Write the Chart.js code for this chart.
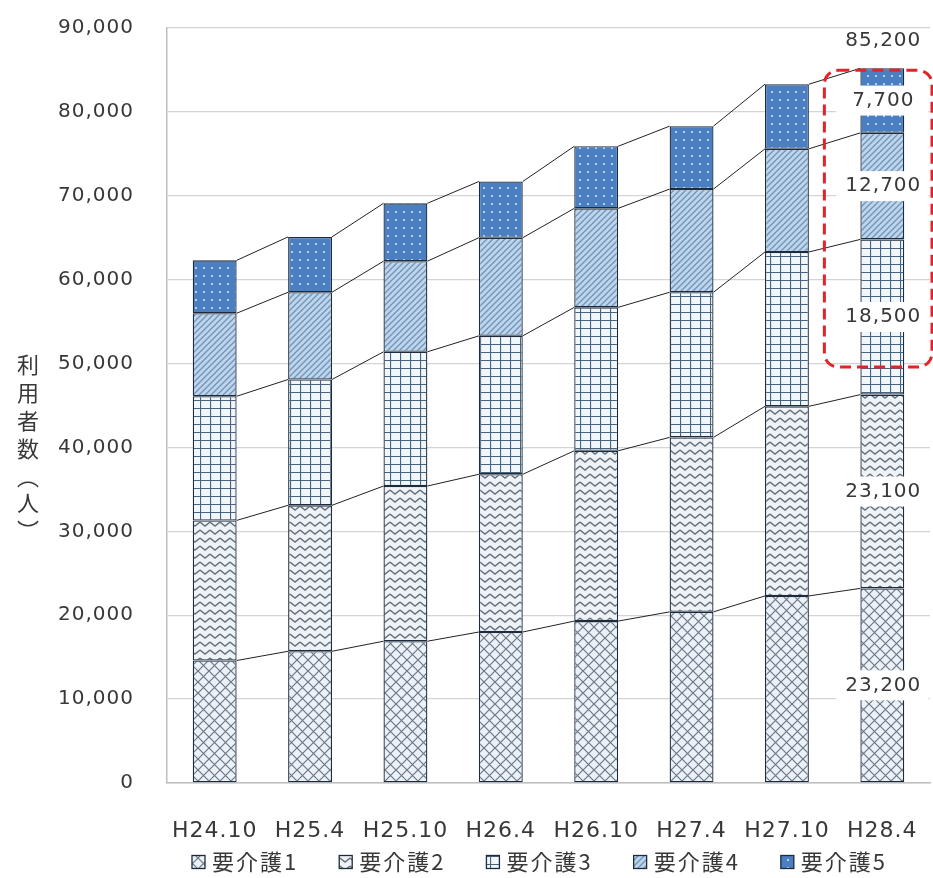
<!DOCTYPE html>
<html lang="ja">
<head>
<meta charset="UTF-8">
<title>要介護度別 利用者数の推移</title>
<script src="https://cdn.jsdelivr.net/npm/chart.js"></script>
<style>
    body { margin: 0; background: #fff; overflow: hidden; }
    #wrap { width: 933px; height: 878px; }
    canvas { display: block; }
</style>
</head>
<body>
<div id="wrap"><canvas id="chart" width="933" height="878"></canvas></div>
<script>
// 時点ごとの要介護度別利用者数（人）
const periods = ['H24.10', 'H25.4', 'H25.10', 'H26.4', 'H26.10', 'H27.4', 'H27.10', 'H28.4'];
const care1 = [14600, 15700, 16900, 18000, 19300, 20400, 22300, 23200];
const care2 = [16700, 17400, 18500, 18800, 20300, 20800, 22600, 23100];
const care3 = [14800, 15000, 16000, 16500, 17100, 17300, 18400, 18500];
const care4 = [9900, 10400, 10800, 11700, 11800, 12300, 12300, 12700];
const care5 = [6300, 6600, 6900, 6700, 7400, 7500, 7700, 7700];
const seriesNames = ['要介護1', '要介護2', '要介護3', '要介護4', '要介護5'];
const yTicks = [0, 10000, 20000, 30000, 40000, 50000, 60000, 70000, 80000, 90000];
const yTitle = ['利', '用', '者', '数', '︵', '人', '︶'];

const NUM_FONT = '"DejaVu Sans", "Noto Sans CJK JP", sans-serif';
const JP_FONT = '"Noto Sans CJK JP", "Noto Sans", sans-serif';
const TEXT = '#383838';

// 塗りつぶし用のハッチング
function makePattern(w, h, bg, draw) {
    const c = document.createElement('canvas');
    c.width = w; c.height = h;
    const g = c.getContext('2d');
    g.fillStyle = bg;
    g.fillRect(0, 0, w, h);
    draw(g, w, h);
    return g.createPattern(c, 'repeat');
}

const fill1 = makePattern(11, 11, '#eaf1f8', (g, w, h) => {
    g.strokeStyle = '#6c7783'; g.lineWidth = 1.2;
    g.beginPath();
    g.moveTo(0, 0); g.lineTo(w, h);
    g.moveTo(w, 0); g.lineTo(0, h);
    g.stroke();
});
const fill2 = makePattern(10, 8, '#eef3f8', (g, w, h) => {
    g.strokeStyle = '#66717d'; g.lineWidth = 1.4;
    g.beginPath();
    g.moveTo(0, 2); g.lineTo(w / 2, 6); g.lineTo(w, 2);
    g.stroke();
});
const fill3 = makePattern(10, 8, '#f1f6fb', (g, w, h) => {
    g.strokeStyle = '#46637f'; g.lineWidth = 1.2;
    g.beginPath();
    g.moveTo(0.5, 0); g.lineTo(0.5, h);
    g.moveTo(0, 0.5); g.lineTo(w, 0.5);
    g.stroke();
});
const fill4 = makePattern(6, 6, '#bdd5ec', (g, w, h) => {
    g.strokeStyle = '#7393b6'; g.lineWidth = 1.3;
    g.beginPath();
    g.moveTo(0, h); g.lineTo(w, 0);
    g.moveTo(-1, 1); g.lineTo(1, -1);
    g.moveTo(w - 1, h + 1); g.lineTo(w + 1, h - 1);
    g.stroke();
});
const fill5 = makePattern(8, 8, '#4a7fc1', (g) => {
    g.fillStyle = '#dce8f6';
    g.beginPath();
    g.arc(4, 4, 1, 0, Math.PI * 2);
    g.fill();
});

const fills = [fill1, fill2, fill3, fill4, fill5];
const values = [care1, care2, care3, care4, care5];

const datasets = values.map((v, i) => ({
    label: seriesNames[i],
    data: v,
    backgroundColor: fills[i],
    borderColor: '#1e2b3c',
    borderWidth: 1.3,
    borderSkipped: false,
    categoryPercentage: 1,
    barPercentage: 0.46
}));

// 文字間隔（目盛ラベル用）。canvas のリサイズで状態が戻るので描画前に設定
const spacing = {
    id: 'spacing',
    beforeDraw(chart) { chart.ctx.letterSpacing = '1px'; }
};

// 区分線（各系列の上端を隣の棒とつなぐ）
const seriesLines = {
    id: 'seriesLines',
    beforeDatasetsDraw(chart) {
        const ctx = chart.ctx;
        ctx.save();
        ctx.strokeStyle = '#222';
        ctx.lineWidth = 1;
        chart.data.datasets.forEach((ds, di) => {
            const bars = chart.getDatasetMeta(di).data;
            for (let i = 0; i < bars.length - 1; i++) {
                const a = bars[i], b = bars[i + 1];
                ctx.beginPath();
                ctx.moveTo(a.x + a.width / 2, a.y);
                ctx.lineTo(b.x - b.width / 2, b.y);
                ctx.stroke();
            }
        });
        ctx.restore();
    }
};

// 最新時点の内訳ラベルと合計、強調枠
const latestLabels = {
    id: 'latestLabels',
    afterDatasetsDraw(chart) {
        const ctx = chart.ctx;
        const last = chart.data.labels.length - 1;
        ctx.save();
        ctx.font = '20px ' + NUM_FONT;
        ctx.letterSpacing = '1px';
        ctx.textAlign = 'center';
        ctx.textBaseline = 'middle';
        let total = 0;
        let top = null;
        const centers = [];
        chart.data.datasets.forEach((ds, di) => {
            const el = chart.getDatasetMeta(di).data[last];
            const v = ds.data[last];
            total += v;
            top = el;
            const cy = (el.y + el.base) / 2;
            centers.push(cy);
            ctx.fillStyle = '#fff';
            ctx.fillRect(el.x - 46, cy - 15, 92, 30);
            ctx.fillStyle = TEXT;
            ctx.fillText(v.toLocaleString('en-US'), el.x + 1, cy);
        });
        ctx.fillStyle = TEXT;
        ctx.fillText(total.toLocaleString('en-US'), top.x + 1, top.y - 27);

        // 要介護3～5を囲む赤い破線枠
        const x0 = top.x - top.width / 2 - 36;
        const x1 = chart.chartArea.right + 2;
        const y0 = top.y + 2;
        const y1 = centers[2] + 50;
        ctx.strokeStyle = '#e0242a';
        ctx.lineWidth = 3;
        ctx.setLineDash([11, 6]);
        ctx.beginPath();
        ctx.roundRect(x0, y0, x1 - x0, y1 - y0, 14);
        ctx.stroke();
        ctx.restore();
    }
};

// 縦書きの軸タイトルと凡例
const titleAndLegend = {
    id: 'titleAndLegend',
    afterDraw(chart) {
        const ctx = chart.ctx;
        ctx.save();
        ctx.font = '22px ' + JP_FONT;
        ctx.letterSpacing = '0px';
        ctx.fillStyle = TEXT;
        ctx.textAlign = 'center';
        ctx.textBaseline = 'middle';
        let y = 365;
        yTitle.forEach((ch) => {
            ctx.fillText(ch, 28, y);
            y += (ch === '︵' || ch === '︶') ? 26 : 28;
        });

        // 凡例
        ctx.font = '22px ' + JP_FONT;
        ctx.letterSpacing = '2px';
        ctx.textAlign = 'left';
        let x = 192;
        const ly = 862;
        chart.data.datasets.forEach((ds) => {
            ctx.fillStyle = ds.backgroundColor;
            ctx.fillRect(x, ly - 6.5, 13, 13);
            ctx.strokeStyle = '#1e2b3c';
            ctx.lineWidth = 1.3;
            ctx.strokeRect(x, ly - 6.5, 13, 13);
            ctx.fillStyle = TEXT;
            ctx.fillText(ds.label, x + 20, ly);
            x += 20 + ctx.measureText(ds.label).width + 41;
        });
        ctx.restore();
    }
};

new Chart(document.getElementById('chart'), {
    type: 'bar',
    data: { labels: periods, datasets },
    options: {
        responsive: false,
        animation: false,
        layout: { padding: { top: 28, right: 3, left: 0, bottom: 0 } },
        plugins: {
            legend: { display: false },
            tooltip: { enabled: false }
        },
        scales: {
            x: {
                stacked: true,
                afterFit(scale) {
                    scale.height = 95;
                    scale.paddingLeft = 0;
                    scale.paddingRight = 0;
                },
                grid: { display: false, drawTicks: false },
                border: { color: '#bfbfbf', width: 1.5 },
                ticks: {
                    padding: 35,
                    color: TEXT,
                    font: { size: 22, family: NUM_FONT }
                }
            },
            y: {
                stacked: true,
                min: 0,
                max: 90000,
                afterBuildTicks(scale) {
                    scale.ticks = yTicks.map(v => ({ value: v }));
                },
                afterFit(scale) {
                    scale.width = 167;
                    scale.paddingTop = 0;
                    scale.paddingBottom = 0;
                },
                grid: { color: '#d4d4d4', lineWidth: 1.3, drawTicks: false },
                border: { color: '#bfbfbf', width: 1.5 },
                ticks: {
                    padding: 33,
                    color: TEXT,
                    font: { size: 20, family: NUM_FONT },
                    callback: v => v.toLocaleString('en-US')
                }
            }
        }
    },
    plugins: [spacing, seriesLines, latestLabels, titleAndLegend]
});
</script>
</body>
</html>
